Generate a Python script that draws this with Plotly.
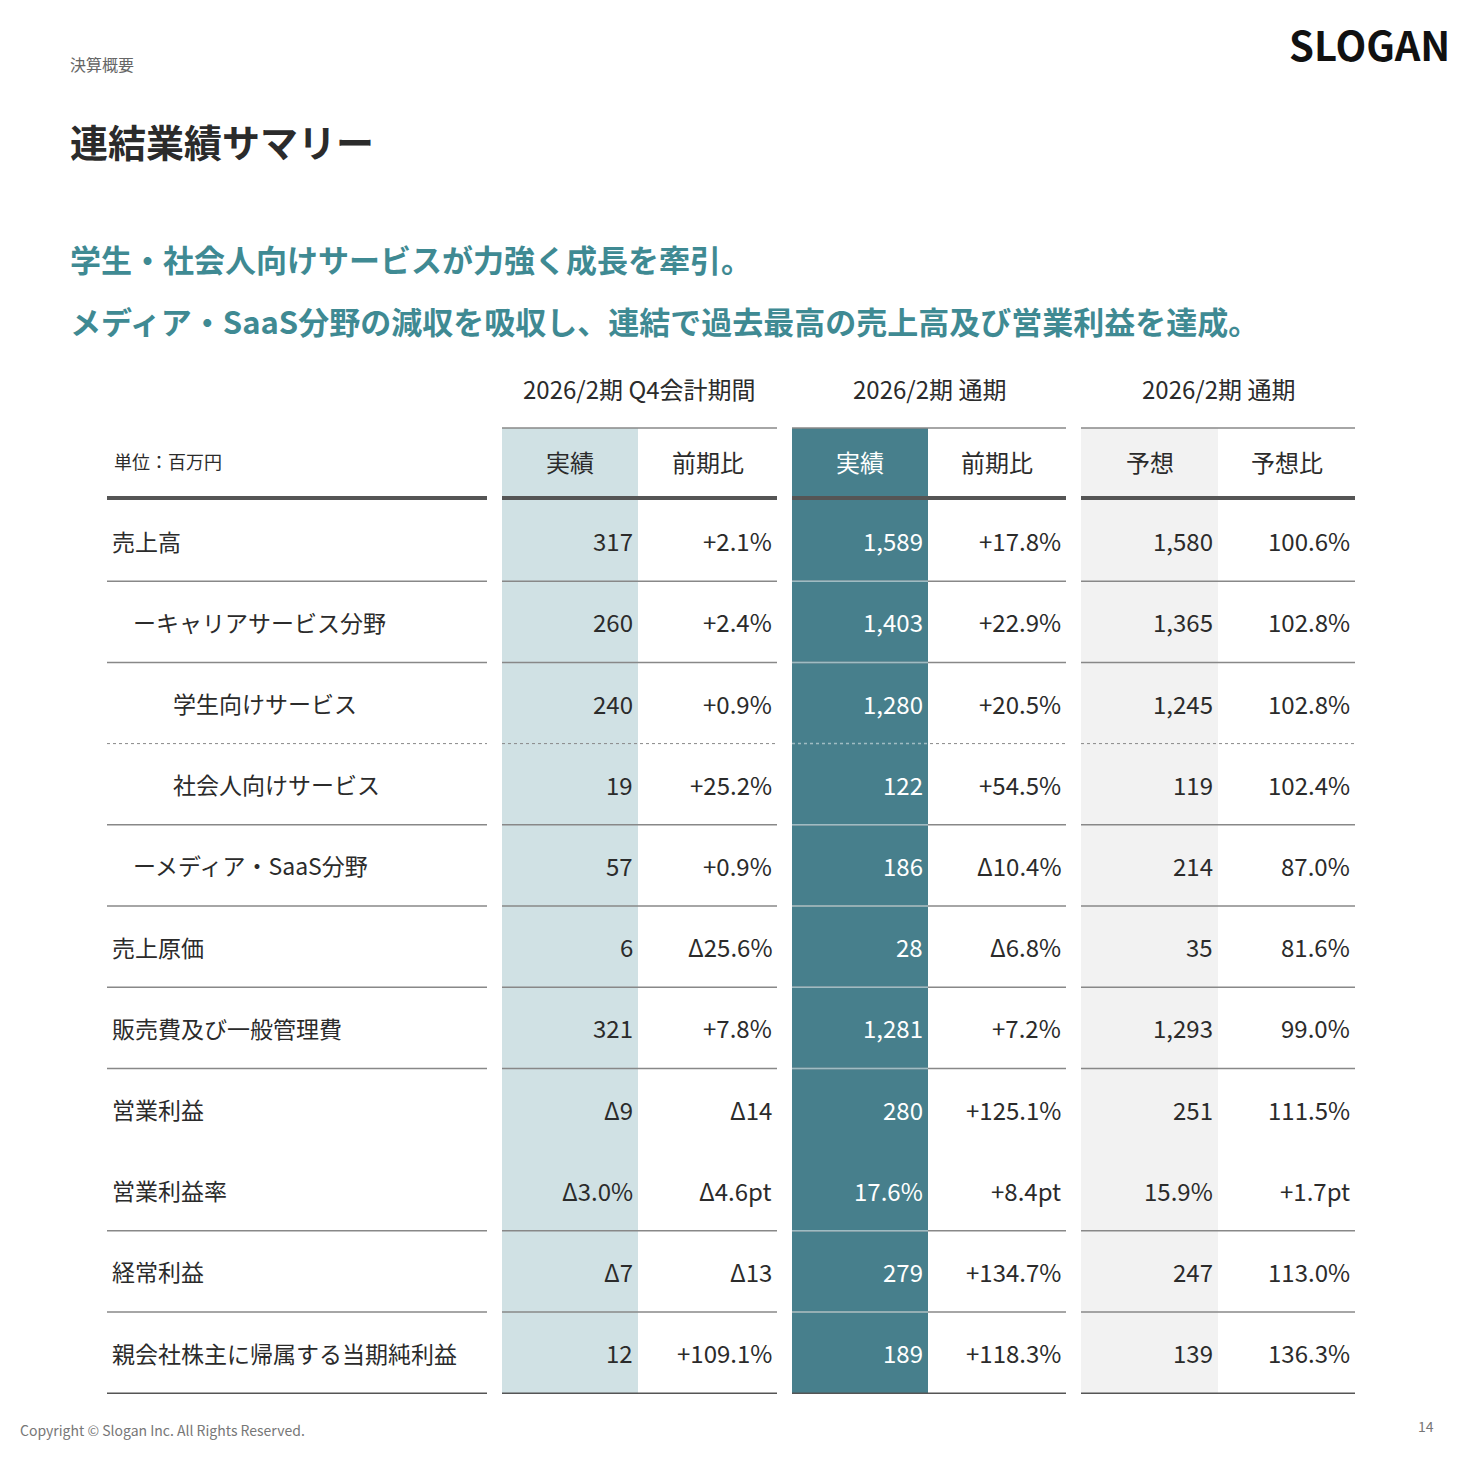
import plotly.graph_objects as go

row_labels = ["売上高", "ーキャリアサービス分野", "学生向けサービス", "社会人向けサービス",
              "ーメディア・SaaS分野", "売上原価", "販売費及び一般管理費", "営業利益",
              "営業利益率", "経常利益", "親会社株主に帰属する当期純利益"]
label_indent = [0, 1, 2, 2, 1, 0, 0, 0, 0, 0, 0]
q4_actual = ["317", "260", "240", "19", "57", "6", "321", "Δ9", "Δ3.0%", "Δ7", "12"]
q4_yoy = ["+2.1%", "+2.4%", "+0.9%", "+25.2%", "+0.9%", "Δ25.6%", "+7.8%", "Δ14", "Δ4.6pt", "Δ13", "+109.1%"]
fy_actual = ["1,589", "1,403", "1,280", "122", "186", "28", "1,281", "280", "17.6%", "279", "189"]
fy_yoy = ["+17.8%", "+22.9%", "+20.5%", "+54.5%", "Δ10.4%", "Δ6.8%", "+7.2%", "+125.1%", "+8.4pt", "+134.7%", "+118.3%"]
fc_value = ["1,580", "1,365", "1,245", "119", "214", "35", "1,293", "251", "15.9%", "247", "139"]
fc_ratio = ["100.6%", "102.8%", "102.8%", "102.4%", "87.0%", "81.6%", "99.0%", "111.5%", "+1.7pt", "113.0%", "136.3%"]
group_titles = ["2026/2期 Q4会計期間", "2026/2期 通期", "2026/2期 通期"]
sub_headers = ["実績", "前期比", "実績", "前期比", "予想", "予想比"]

FONT = "Noto Sans CJK JP"
DARK = "#2b2b2b"
TEAL = "#477f8c"
columns = [q4_actual, q4_yoy, fy_actual, fy_yoy, fc_value, fc_ratio]
col_x = [(502, 638), (638, 777), (792, 928), (928, 1066), (1081, 1218), (1218, 1355)]
col_fill = ["#d0e1e4", "white", TEAL, "white", "#f2f2f2", "white"]
groups = [(502, 777), (792, 1066), (1081, 1355)]
segments = [(107, 487)] + groups
row_top = 500
row_h = 81.2

fig = go.Figure()
shapes, ann = [], []

def text(x, y, s, size, color=DARK, anchor="left", bold=False):
    ann.append(dict(x=x, y=y, xref="x", yref="y", text=f"<b>{s}</b>" if bold else s,
                    showarrow=False, xanchor=anchor, yanchor="middle",
                    font=dict(family=FONT, size=size, color=color)))

n = len(row_labels)
bottom = row_top + n * row_h
for (x0, x1), fill in zip(col_x, col_fill):
    if fill != "white":
        shapes.append(dict(type="rect", x0=x0, x1=x1, y0=428, y1=bottom, fillcolor=fill,
                           line_width=0, layer="below"))

for x0, x1 in groups:
    shapes.append(dict(type="line", x0=x0, x1=x1, y0=428, y1=428, line=dict(color="#888", width=1.5)))
for x0, x1 in segments:
    shapes.append(dict(type="line", x0=x0, x1=x1, y0=498, y1=498, line=dict(color="#555", width=4)))
    shapes.append(dict(type="line", x0=x0, x1=x1, y0=bottom, y1=bottom, line=dict(color="#555", width=1.5)))

for i in range(1, n):
    if i == 8:
        continue
    y = row_top + i * row_h
    for x0, x1 in segments:
        dash = "dot" if i == 3 else "solid"
        shapes.append(dict(type="line", x0=x0, x1=x1, y0=y, y1=y,
                           line=dict(color="#888", width=1 if i == 3 else 1.5, dash=dash)))
    shapes.append(dict(type="line", x0=792, x1=928, y0=y, y1=y,
                       line=dict(color="#9fbcc3", width=1.5, dash="dot" if i == 3 else "solid")))

for (x0, x1), t in zip(groups, group_titles):
    text((x0 + x1) / 2, 388, t, 24, anchor="center")
for (x0, x1), t, fill in zip(col_x, sub_headers, col_fill):
    text((x0 + x1) / 2, 461, t, 24, color="white" if fill == TEAL else DARK, anchor="center")
text(112, 461, "単位：百万円", 18)

for i, lab in enumerate(row_labels):
    yc = row_top + (i + 0.5) * row_h
    text(110 + [0, 21, 61][label_indent[i]], yc, lab, 23)
    for (x0, x1), vals, fill in zip(col_x, columns, col_fill):
        text(x1 - 3, yc, vals[i], 24, color="white" if fill == TEAL else DARK, anchor="right")

text(68, 64, "決算概要", 16, color="#666")
text(68, 140, "連結業績サマリー", 38, bold=True)
text(68, 258, "学生・社会人向けサービスが力強く成長を牽引。", 31, color="#3f8a93", bold=True)
text(68, 320, "メディア・SaaS分野の減収を吸収し、連結で過去最高の売上高及び営業利益を達成。", 31,
     color="#3f8a93", bold=True)
text(1452, 44, "SLOGAN", 40, color="#111", anchor="right", bold=True)
text(18, 1430, "Copyright © Slogan Inc. All Rights Reserved.", 14, color="#777")
text(1436, 1426, "14", 14, color="#777", anchor="right")

# the page body adds an 8px offset; shift the ranges so marks land where intended
fig.update_layout(width=1463, height=1463, margin=dict(l=0, r=0, t=0, b=0),
                  plot_bgcolor="white", paper_bgcolor="white", shapes=shapes, annotations=ann,
                  xaxis=dict(range=[8, 1471], visible=False, fixedrange=True),
                  yaxis=dict(range=[1471, 8], visible=False, fixedrange=True),
                  showlegend=False)
fig.write_html("out.html", config={"displayModeBar": False})
